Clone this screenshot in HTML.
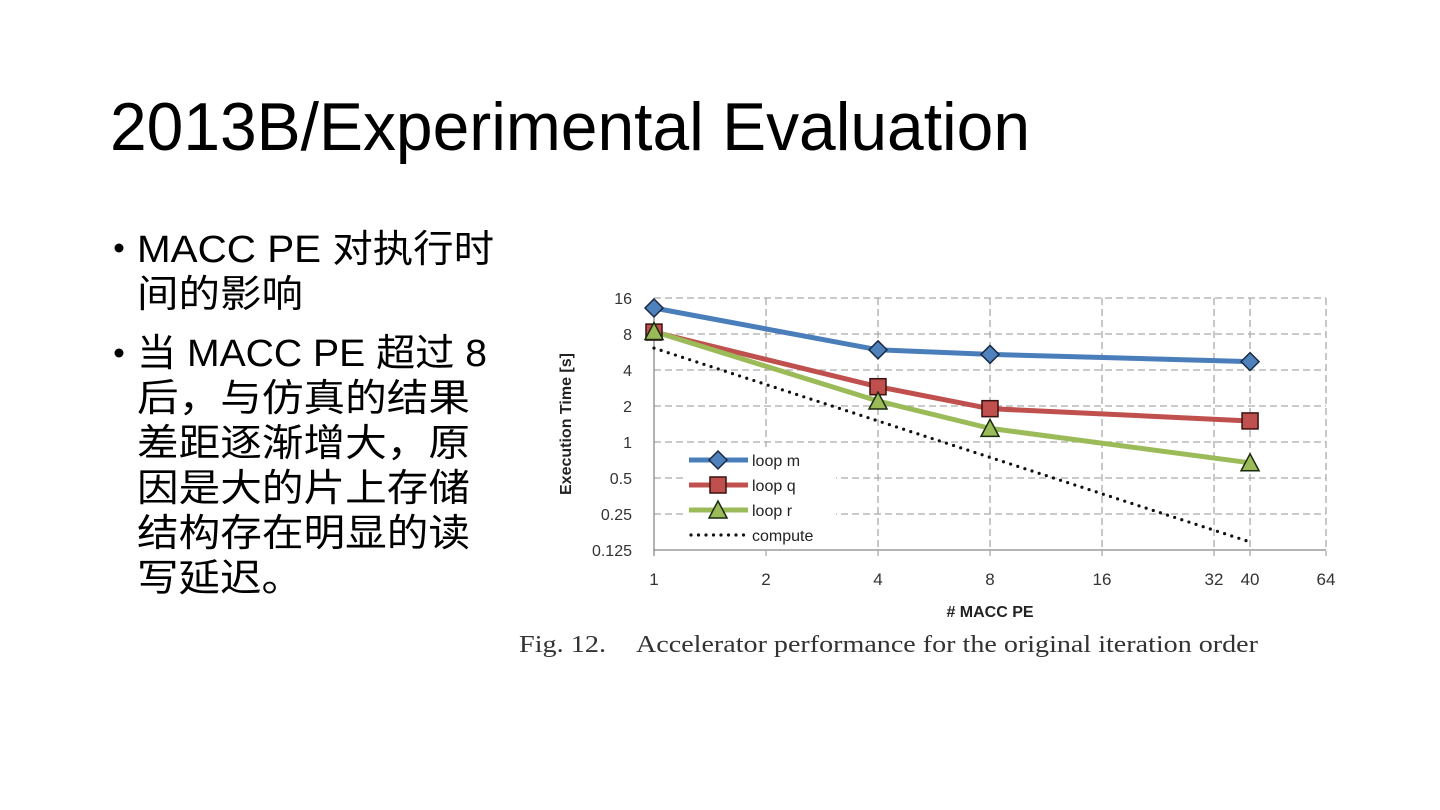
<!DOCTYPE html>
<html><head><meta charset="utf-8"><style>html,body{margin:0;padding:0;background:#fff}svg{display:block}</style></head>
<body>
<svg id="s" width="1440" height="810" viewBox="0 0 1440 810" xmlns="http://www.w3.org/2000/svg">
<text x="110" y="150" font-family="Liberation Sans, sans-serif" font-size="68" textLength="920" lengthAdjust="spacingAndGlyphs" fill="#000">2013B/Experimental Evaluation</text>
<g font-family="Liberation Sans, 'Noto Sans CJK SC', sans-serif" font-size="38" fill="#000">
<circle cx="119" cy="248" r="4.5"/>
<text x="137" y="262" textLength="357" lengthAdjust="spacingAndGlyphs">MACC PE  对执行时</text>
<text x="137" y="307" textLength="166" lengthAdjust="spacingAndGlyphs">间的影响</text>
<circle cx="119" cy="353" r="4.5"/>
<text x="137" y="366" textLength="350" lengthAdjust="spacingAndGlyphs">当 MACC PE 超过 8</text>
<text x="137" y="411" textLength="333" lengthAdjust="spacingAndGlyphs">后，与仿真的结果</text>
<text x="137" y="456" textLength="333" lengthAdjust="spacingAndGlyphs">差距逐渐增大，原</text>
<text x="137" y="501" textLength="333" lengthAdjust="spacingAndGlyphs">因是大的片上存储</text>
<text x="137" y="546" textLength="333" lengthAdjust="spacingAndGlyphs">结构存在明显的读</text>
<text x="137" y="591" textLength="166" lengthAdjust="spacingAndGlyphs">写延迟。</text>
</g>
<g id="chart"></g>
<text x="519" y="652" font-family="Liberation Serif, serif" font-size="24" textLength="87" lengthAdjust="spacingAndGlyphs" fill="#333">Fig. 12.</text>
<text x="636" y="652" font-family="Liberation Serif, serif" font-size="24" textLength="622" lengthAdjust="spacingAndGlyphs" fill="#333">Accelerator performance for the original iteration order</text>
</svg>
<script>
const xTicks = [1, 2, 4, 8, 16, 32, 40, 64];
const yTicks = [16, 8, 4, 2, 1, 0.5, 0.25, 0.125];
const yTickLabels = ["16", "8", "4", "2", "1", "0.5", "0.25", "0.125"];
const peCounts = [1, 4, 8, 40];
const loopM = [13.2, 5.9, 5.4, 4.7];
const loopQ = [8.3, 2.9, 1.9, 1.5];
const loopR = [8.4, 2.2, 1.3, 0.67];
const computeX = [1, 40];
const computeY = [6.1, 0.146];

const NS = "http://www.w3.org/2000/svg";
const g = document.getElementById('chart');
const X0 = 654, X1 = 1326, Y0 = 298, Y1 = 550;
function xs(v){ return X0 + (Math.log2(v) - 0) / 6 * (X1 - X0); }
function ys(v){ return Y0 + (4 - Math.log2(v)) / 7 * (Y1 - Y0); }
function mk(tag, attrs, parent){ const e = document.createElementNS(NS, tag); for (const k in attrs) e.setAttribute(k, attrs[k]); (parent||g).appendChild(e); return e; }

yTicks.forEach((v, i) => {
  const y = ys(v);
  const l = mk('line', {x1: X0, x2: X1, y1: y, y2: y, stroke: i === yTicks.length-1 ? '#888' : '#aaa', 'stroke-width': 1.3, 'stroke-dasharray': i === yTicks.length-1 ? '' : '7,4'});
  
  
  const t = mk('text', {x: 632, y: y + 6, 'text-anchor': 'end', 'font-family': 'Liberation Sans, sans-serif', 'font-size': 16, fill: '#333'});
  t.textContent = yTickLabels[i];
  
  
});
xTicks.forEach((v, i) => {
  const x = xs(v);
  const l = mk('line', {x1: x, x2: x, y1: Y0, y2: Y1 + 6, stroke: i === 0 ? '#888' : '#aaa', 'stroke-width': 1.3, 'stroke-dasharray': i === 0 ? '' : '7,4'});
  
  
  const t = mk('text', {x: x, y: 585, 'text-anchor': 'middle', 'font-family': 'Liberation Sans, sans-serif', 'font-size': 17, fill: '#333'});
  t.textContent = String(v);
  
  
});
const xt = mk('text', {x: 990, y: 617, 'text-anchor': 'middle', 'font-family': 'Liberation Sans, sans-serif', 'font-size': 16, 'font-weight': 'bold', fill: '#222'});
xt.textContent = '# MACC PE';


const yt = mk('text', {x: 0, y: 0, transform: 'translate(571,424) rotate(-90)', 'text-anchor': 'middle', 'font-family': 'Liberation Sans, sans-serif', 'font-size': 16, 'font-weight': 'bold', fill: '#222'});
yt.textContent = 'Execution Time [s]';



const lb = mk('rect', {x: 684, y: 447, width: 152, height: 100, fill: '#fff'});



function marker(shape, x, y, fill, name){
  let e;
  if (shape === 'diamond') e = mk('polygon', {points: `${x},${y-9} ${x+9},${y} ${x},${y+9} ${x-9},${y}`, fill, stroke: '#1a2a40', 'stroke-width': 1.5});
  else if (shape === 'square') e = mk('rect', {x: x-8, y: y-8, width: 16, height: 16, fill, stroke: '#3a1010', 'stroke-width': 1.5});
  else e = mk('polygon', {points: `${x},${y-9} ${x+9},${y+8} ${x-9},${y+8}`, fill, stroke: '#1a2a10', 'stroke-width': 1.5});
  
  
}
const cl = mk('polyline', {points: computeX.map((v,i)=>xs(v)+','+ys(computeY[i])).join(' '), fill: 'none', stroke: '#111', 'stroke-width': 3.2, 'stroke-dasharray': '0,7.5', 'stroke-linecap': 'round'});


const series = [
  {vals: loopM, color: '#4a7ebb', mfill: '#4f81bd', shape: 'diamond', name: 'loop-m', label: 'loop m'},
  {vals: loopQ, color: '#c0504d', mfill: '#c0504d', shape: 'square', name: 'loop-q', label: 'loop q'},
  {vals: loopR, color: '#9bbb59', mfill: '#9bbb59', shape: 'triangle', name: 'loop-r', label: 'loop r'}
];
series.forEach(s => {
  const p = mk('polyline', {points: peCounts.map((v,i)=>xs(v)+','+ys(s.vals[i])).join(' '), fill: 'none', stroke: s.color, 'stroke-width': 5, 'stroke-linejoin': 'round'});
  
  
});
series.forEach(s => {
  peCounts.forEach((v,i) => marker(s.shape, xs(v), ys(s.vals[i]), s.mfill, s.name + '-point'));
});
series.forEach((s, i) => {
  const y = 460 + i * 25;
  const l = mk('line', {x1: 689, x2: 748, y1: y, y2: y, stroke: s.color, 'stroke-width': 5});
  
  
  marker(s.shape, 718, y, s.mfill, 'legend-marker-' + s.name);
  const t = mk('text', {x: 752, y: y + 6, 'font-family': 'Liberation Sans, sans-serif', 'font-size': 16, fill: '#222'});
  t.textContent = s.label;
  
  
});
const lc = mk('line', {x1: 691, x2: 746, y1: 535, y2: 535, stroke: '#111', 'stroke-width': 3.2, 'stroke-dasharray': '0,7.5', 'stroke-linecap': 'round'});


const lt = mk('text', {x: 752, y: 541, 'font-family': 'Liberation Sans, sans-serif', 'font-size': 16, fill: '#222'});
lt.textContent = 'compute';


</script>
</body></html>
